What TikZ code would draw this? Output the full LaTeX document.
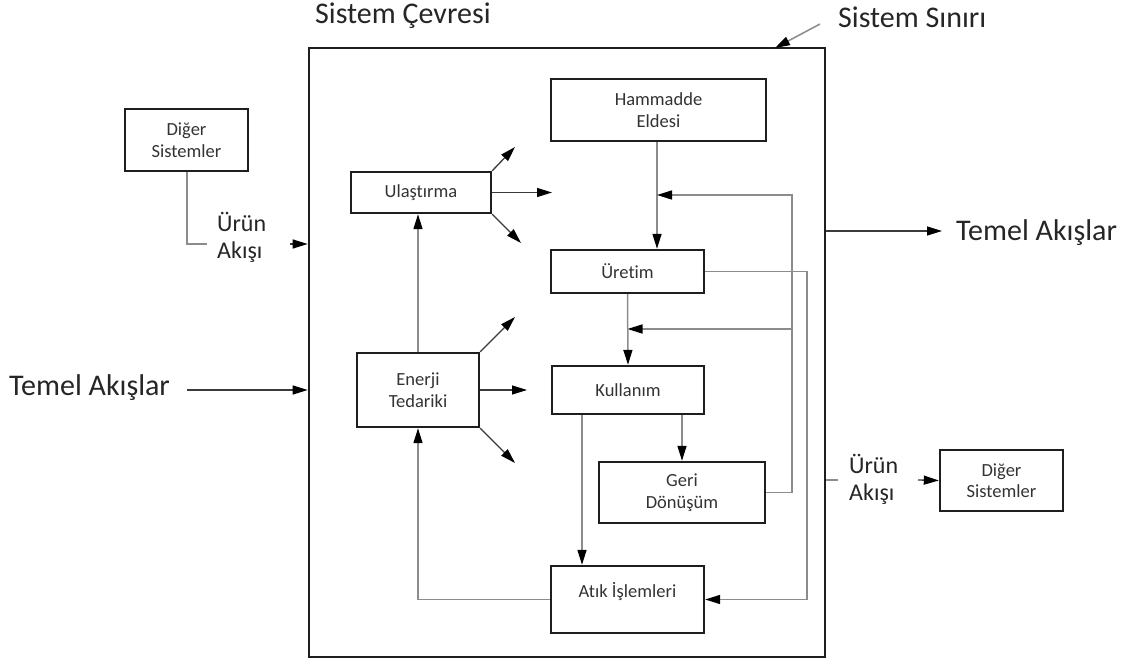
\documentclass[tikz,border=0pt]{standalone}
\usepackage{fontspec}
\setmainfont{Carlito}[Ligatures=NoCommon]
\usetikzlibrary{arrows.meta,calc}
\definecolor{conn}{HTML}{8C8C8C}
\definecolor{dconn}{HTML}{3A3A3A}
\definecolor{bord}{HTML}{1E1E1E}
\begin{document}
\begin{tikzpicture}[x=1pt,y=-1pt,
  box/.style={draw=bord,line width=2.4pt,rectangle,inner sep=0pt,align=center,
    font=\fontsize{18.5}{21.5}\selectfont,text=black!80},
  bigtxt/.style={inner sep=0pt,font=\fontsize{30}{34}\selectfont,text=black!85},
  midtxt/.style={inner sep=0pt,align=left,font=\fontsize{24}{27}\selectfont,text=black!85},
  tip/.style={-{Triangle[length=15pt,width=9pt,color=black]}},
  flow/.style={draw=conn,line width=1.5pt},
  dflow/.style={draw=dconn,line width=1.3pt}]
\useasboundingbox (0,0) rectangle (1133,660);
\fill[white] (0,0) rectangle (1133,660);

% system boundary
\node[draw=bord,line width=2.6pt,rectangle,minimum width=516pt,minimum height=609pt] (sys) at (567,352.5) {};

% texts
\node[bigtxt,anchor=west] (cevre) at (315,16) {Sistem Çevresi};
\node[bigtxt,anchor=west] (sinir) at (838,17) {Sistem Sınırı};
\node[bigtxt,anchor=west] (tl) at (9,388) {Temel Akışlar};
\node[bigtxt,anchor=west] (tr) at (956,233) {Temel Akışlar};
\node[midtxt,anchor=west] (ul) at (217,237) {Ürün\\Akışı};
\node[midtxt,anchor=west] (ur) at (849,479) {Ürün\\Akışı};

% boxes
\node[box,minimum width=123pt,minimum height=62pt] (dig1) at (186.5,140) {Diğer\\Sistemler};
\node[box,minimum width=123pt,minimum height=61pt] (dig2) at (1001.5,480.5) {Diğer\\Sistemler};
\node[box,minimum width=140pt,minimum height=41pt] (ulas) at (421,192.5) {Ulaştırma};
\node[box,minimum width=215pt,minimum height=62pt] (hamm) at (658.5,110) {Hammadde\\Eldesi};
\node[box,minimum width=153pt,minimum height=43pt] (uret) at (627.5,271.5) {Üretim};
\node[box,minimum width=122pt,minimum height=74pt] (ener) at (418,390) {Enerji\\Tedariki};
\node[box,minimum width=152pt,minimum height=48pt] (kull) at (628,390) {Kullanım};
\node[box,minimum width=166pt,minimum height=61pt] (geri) at (682,492.5) {Geri\\Dönüşüm};
\node[box,minimum width=153pt,minimum height=67pt] (atik) at (627.5,599.5) {};
\node[inner sep=0pt,font=\fontsize{18.5}{21.5}\selectfont,text=black!80] (atikt) at (627.5,592) {Atık İşlemleri};

% helper coordinates
\coordinate (c1) at (207,244);
\coordinate (a1) at (290,244);
\coordinate (a2) at (187,390);
\coordinate (a3) at (942,231);
\coordinate (a4) at (838,480);
\coordinate (a5) at (918,480);
\coordinate (s1) at (820,24);
\coordinate (s2) at (775,48);
\coordinate (r1) at (792,195);
\coordinate (r2) at (792,329);
\coordinate (r3) at (807,599.5);
\coordinate (xk) at (582,0);
\coordinate (xh) at (657,0);
\coordinate (u1) at (515,147);
\coordinate (u2) at (552,192.5);
\coordinate (u3) at (521,243);
\coordinate (e1) at (515,317);
\coordinate (e2) at (527,390);
\coordinate (e3) at (515,463);

% outside connectors
\draw[flow] (dig1.south -| 187,0) |- (c1);
\draw[dflow,tip] (a1) -- (a1 -| sys.west);
\draw[dflow,tip] (a2) -- (a2 -| sys.west);
\draw[dflow,tip] (a3 -| sys.east) -- (a3);
\draw[flow] (a4 -| sys.east) -- (a4);
\draw[dflow,tip] (a5) -- (dig2.west);
\draw[flow,tip] (s1) -- (s2);

% inner connectors
\draw[flow,tip] (hamm.south -| xh) -- (uret.north -| xh);
\draw[flow,tip] (geri.east) -| (r1) -- (r1 -| xh);
\draw[flow,tip] (r2) -- (r2 -| uret.south);
\draw[flow,tip] (uret.south) -- (kull.north);
\draw[flow,tip] (uret.east) -| (r3) -- (atik.east);
\draw[flow,tip] (kull.south -| xk) -- (atik.north -| xk);
\draw[flow,tip] (kull.south -| geri.north) -- (geri.north);
\draw[flow,tip] (atik.west) -| (ener.south);
\draw[flow,tip] (ener.north) -- (ener.north |- ulas.south);

% outgoing arrows
\draw[dflow,tip] (ulas.north east) -- (u1);
\draw[dflow,tip] (ulas.east) -- (u2);
\draw[dflow,tip] (ulas.south east) -- (u3);
\draw[dflow,tip] (ener.north east) -- (e1);
\draw[dflow,tip] (ener.east) -- (e2);
\draw[dflow,tip] (ener.south east) -- (e3);
\end{tikzpicture}
\end{document}
